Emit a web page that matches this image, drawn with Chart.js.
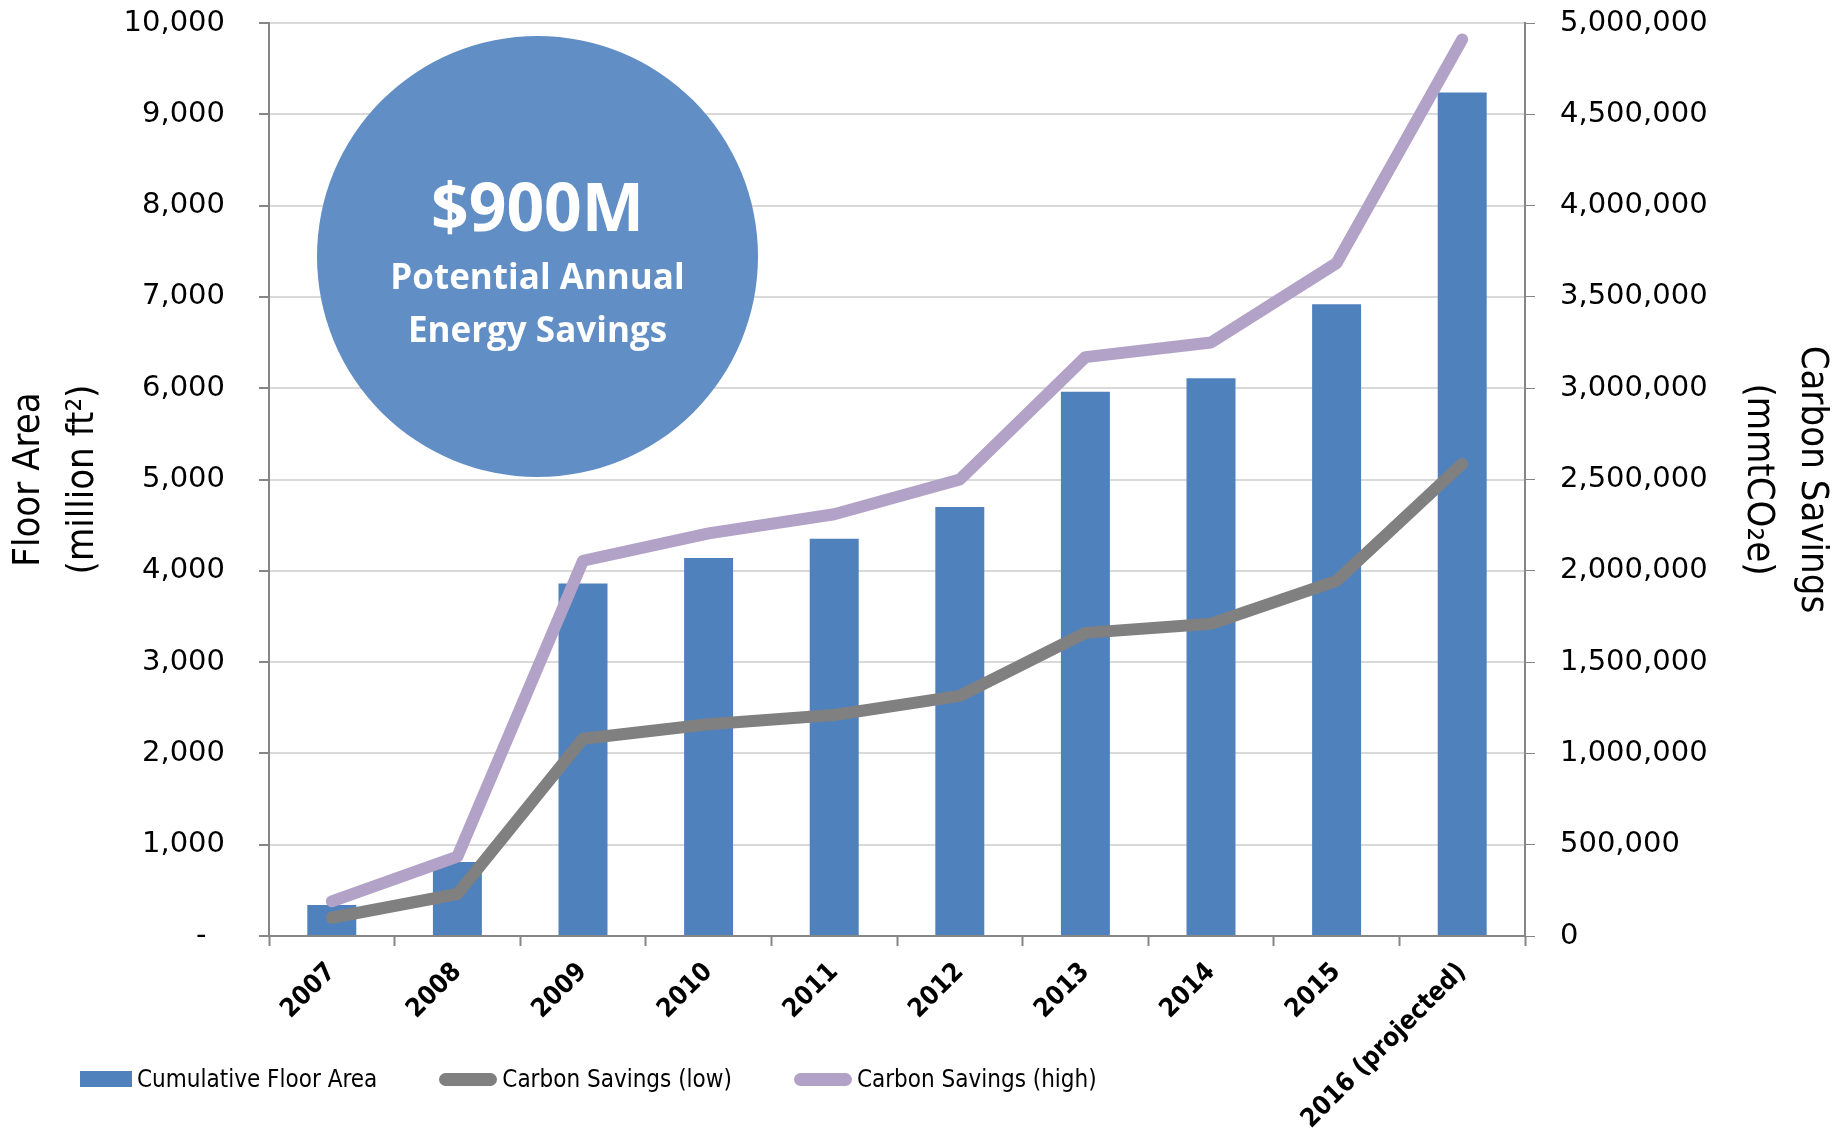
<!DOCTYPE html>
<html>
<head>
<meta charset="utf-8">
<script src="https://cdn.jsdelivr.net/npm/chart.js@4.4.1/dist/chart.umd.min.js"></script>
<style>
  html, body { margin: 0; padding: 0; background: #fff; }
  #wrap { position: relative; width: 1841px; height: 1140px; }
  #badge {
    position: absolute; left: 317px; top: 36px; width: 441px; height: 441px;
    border-radius: 50%; background: #608ec5; color: #fff;
    font-family: 'Open Sans', sans-serif; font-weight: 700; text-align: center;
  }
  #badge div { position: absolute; left: 0; right: 0; white-space: nowrap; }
  #badge .big { top: 136px; font-size: 66px; line-height: 66px; }
  #badge .sub1 { top: 222px; font-size: 35px; line-height: 35px; }
  #badge .sub2 { top: 275px; font-size: 35px; line-height: 35px; }
  #legend {
    position: absolute; left: 80px; top: 1065px; display: flex; gap: 62px;
    font-family: 'DejaVu Sans Condensed', sans-serif; font-size: 24px; color: #000;
  }
  .item { display: flex; align-items: center; }
  .swatch { margin-right: 5px; }
</style>
</head>
<body>
<div id="wrap">
  <canvas id="floorChart" width="1841" height="1140"></canvas>
  <div id="badge">
    <div class="big">$900M</div>
    <div class="sub1">Potential Annual</div>
    <div class="sub2">Energy Savings</div>
  </div>
  <div id="legend"></div>
</div>
<script>
// data
const years = ['2007', '2008', '2009', '2010', '2011', '2012', '2013', '2014', '2015', '2016 (projected)'];
const floorArea = [340, 810, 3860, 4140, 4350, 4700, 5960, 6110, 6920, 9240];
const carbonLow = [100000, 230000, 1080000, 1160000, 1210000, 1315000, 1660000, 1710000, 1945000, 2585000];
const carbonHigh = [190000, 435000, 2055000, 2205000, 2310000, 2500000, 3170000, 3250000, 3685000, 4910000];

const narrow = "'DejaVu Sans Condensed', sans-serif";
const tickFont = "'DejaVu Sans', Verdana, sans-serif";
const axisGray = '#868686';
const gridGray = '#d9d9d9';

function fmt(v) {
    return Number(v).toLocaleString('en-US');
}

// keep the plot area fixed: no extra room for the first/last tick label
function fixVertical(width) {
    return (scale) => {
        scale.width = width;
        scale.paddingTop = 0;
        scale.paddingBottom = 0;
    };
}

const ctx = document.getElementById('floorChart').getContext('2d');

const floorChart = new Chart(ctx, {
    type: 'bar',
    data: {
        labels: years,
        datasets: [{
            label: 'Cumulative Floor Area',
            data: floorArea,
            backgroundColor: '#4f81bd',
            yAxisID: 'y',
            categoryPercentage: 1,
            barPercentage: 0.39,
            order: 3
        }, {
            type: 'line',
            label: 'Carbon Savings (low)',
            data: carbonLow,
            borderColor: '#808080',
            backgroundColor: '#808080',
            borderWidth: 12,
            borderCapStyle: 'round',
            borderJoinStyle: 'round',
            pointRadius: 0,
            tension: 0,
            yAxisID: 'y1',
            order: 1
        }, {
            type: 'line',
            label: 'Carbon Savings (high)',
            data: carbonHigh,
            borderColor: '#b3a2c7',
            backgroundColor: '#b3a2c7',
            borderWidth: 12,
            borderCapStyle: 'round',
            borderJoinStyle: 'round',
            pointRadius: 0,
            tension: 0,
            yAxisID: 'y1',
            order: 2
        }]
    },
    options: {
        responsive: false,
        animation: false,
        layout: {
            padding: { top: 23, left: 0, right: 0, bottom: 0 }
        },
        plugins: {
            legend: { display: false },
            tooltip: { enabled: false }
        },
        scales: {
            x: {
                afterFit: (scale) => { scale.height = 204; },
                grid: {
                    offset: true,
                    drawOnChartArea: false,
                    tickLength: 10,
                    tickColor: axisGray,
                    tickWidth: 2
                },
                border: { color: axisGray, width: 2 },
                ticks: {
                    autoSkip: false,
                    maxRotation: 45,
                    minRotation: 45,
                    padding: 11,
                    color: '#000',
                    font: { family: narrow, size: 26, weight: 'bold' }
                }
            },
            y: {
                position: 'left',
                min: 0,
                max: 10000,
                afterFit: fixVertical(269),
                grid: {
                    color: gridGray,
                    lineWidth: 2,
                    tickLength: 10,
                    tickColor: axisGray
                },
                border: { color: axisGray, width: 2 },
                ticks: {
                    stepSize: 1000,
                    padding: 34,
                    color: '#000',
                    font: { family: tickFont, size: 29 },
                    callback: (v) => v === 0 ? '-  ' : fmt(v)
                },
                title: {
                    display: true,
                    text: ['Floor Area', '(million ft²)'],
                    color: '#000',
                    padding: { top: 3, bottom: 0 },
                    font: { family: narrow, size: 38, lineHeight: 1.4 }
                }
            },
            y1: {
                position: 'right',
                min: 0,
                max: 5000000,
                afterFit: fixVertical(316),
                grid: {
                    drawOnChartArea: false,
                    tickLength: 10,
                    tickColor: axisGray
                },
                border: { color: axisGray, width: 2 },
                ticks: {
                    stepSize: 500000,
                    padding: 25,
                    color: '#000',
                    font: { family: tickFont, size: 29 },
                    callback: (v) => fmt(v)
                },
                title: {
                    display: true,
                    text: ['Carbon Savings', '(mmtCO₂e)'],
                    color: '#000',
                    padding: { top: 3, bottom: 0 },
                    font: { family: narrow, size: 38, lineHeight: 1.4 }
                }
            }
        }
    }
});

// legend built from the chart's datasets
const legendBox = document.getElementById('legend');
floorChart.data.datasets.forEach((ds) => {
    const item = document.createElement('div');
    item.className = 'item';
    const sw = document.createElement('span');
    sw.className = 'swatch';
    if (ds.type === 'line') {
        sw.style.cssText = 'width:58px;height:13px;border-radius:7px;background:' + ds.borderColor;
    } else {
        sw.style.cssText = 'width:52px;height:16px;background:' + ds.backgroundColor;
    }
    const txt = document.createElement('span');
    txt.textContent = ds.label;
    item.appendChild(sw);
    item.appendChild(txt);
    legendBox.appendChild(item);
});
</script>
</body>
</html>
